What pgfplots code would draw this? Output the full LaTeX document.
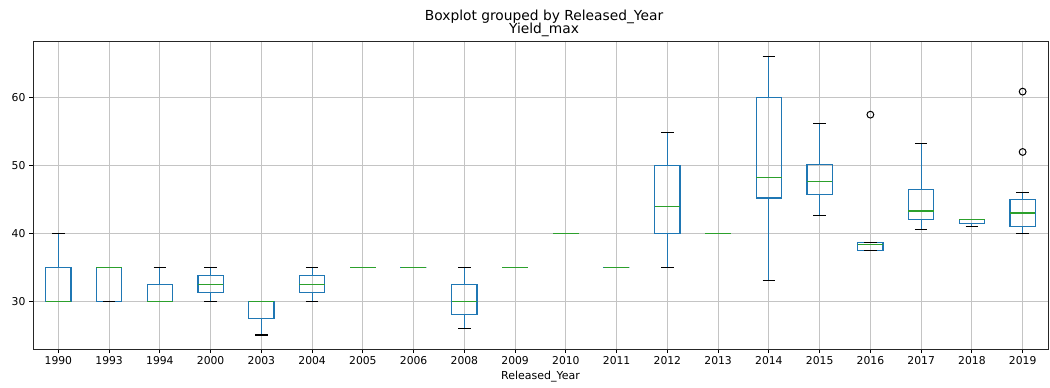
\documentclass[border=0pt]{standalone}
\usepackage{fontspec}
\setmainfont{DejaVu Sans}
\usepackage{pgfplots}
\pgfplotsset{compat=1.18}
\definecolor{mplblue}{HTML}{1F77B4}
\definecolor{mplgreen}{HTML}{2CA02C}
\definecolor{gridgray}{HTML}{C4C4C4}
\pgfplotsset{
  bl/.style={mplblue,line width=1.15pt,mark=none,solid,forget plot},
  bxs/.style={mplblue,line width=1.15pt,mark=none,solid,forget plot,line cap=rect},
  cap/.style={black,line width=1.15pt,mark=none,solid,forget plot},
  med/.style={mplgreen,line width=1.15pt,mark=none,solid,forget plot},
  outl/.style={only marks,mark=o,mark size=3.4pt,mark options={black,line width=1pt,solid},forget plot},
}
% position, lower whisker, lower quartile, median, upper quartile, upper whisker
\newcommand{\bx}[6]{%
  \pgfmathsetmacro\xa{#1-0.25}\pgfmathsetmacro\xb{#1+0.25}%
  \pgfmathsetmacro\ca{#1-0.125}\pgfmathsetmacro\cb{#1+0.125}%
  \edef\tmp{%
    \noexpand\addplot[bl] coordinates {(#1,#2) (#1,#3)};
    \noexpand\addplot[bl] coordinates {(#1,#5) (#1,#6)};
    \noexpand\addplot[bxs] coordinates {(\xa,#3) (\xb,#3) (\xb,#5) (\xa,#5) (\xa,#3)};
    \noexpand\addplot[cap] coordinates {(\ca,#2) (\cb,#2)};
    \noexpand\addplot[cap] coordinates {(\ca,#6) (\cb,#6)};
    \noexpand\addplot[med] coordinates {(\xa,#4) (\xb,#4)};
  }\tmp}
\begin{document}
\begin{tikzpicture}
\begin{axis}[
  name=ax,
  scale only axis,
  width=1015pt, height=307.3pt,
  xmin=0.5, xmax=20.5,
  ymin=22.94, ymax=68.26,
  xtick={1,...,20},
  xticklabels={1990,1993,1994,2000,2003,2004,2005,2006,2008,2009,2010,2011,2012,2013,2014,2015,2016,2017,2018,2019},
  ytick={30,40,50,60},
  grid=major,
  major grid style={gridgray,line width=1pt},
  tick align=outside,
  xtick pos=left, ytick pos=left,
  major tick length=4pt,
  tick style={black,line width=0.9pt},
  axis line style={black!85,line width=0.9pt},
  tick label style={font=\fontsize{10.8}{13}\selectfont},
  /pgf/number format/assume math mode=true,
  xlabel={Released\_Year},
  xlabel style={font=\fontsize{11}{13}\selectfont},
  clip=false,
]
\bx{1}{30}{30}{30}{35}{40}
\bx{2}{30}{30}{35}{35}{35}
\bx{3}{30}{30}{30}{32.5}{35}
\bx{4}{30}{31.25}{32.5}{33.75}{35}
\bx{5}{25}{27.5}{30}{30}{30}
\bx{6}{30}{31.25}{32.5}{33.75}{35}
\bx{7}{35}{35}{35}{35}{35}
\bx{8}{35}{35}{35}{35}{35}
\bx{9}{26}{28}{30}{32.5}{35}
\bx{10}{35}{35}{35}{35}{35}
\bx{11}{40}{40}{40}{40}{40}
\bx{12}{35}{35}{35}{35}{35}
\bx{13}{35}{40}{44}{50}{54.9}
\bx{14}{40}{40}{40}{40}{40}
\bx{15}{33}{45.2}{48.2}{60}{66.1}
\bx{16}{42.6}{45.7}{47.7}{50.15}{56.2}
\bx{17}{37.5}{37.5}{38.3}{38.6}{38.6}
\bx{18}{40.6}{42}{43.3}{46.5}{53.2}
\bx{19}{41}{41.5}{42}{42}{42}
\bx{20}{40}{41}{43}{45}{46}
\addplot[outl] coordinates {(17,57.5) (20,52) (20,60.9)};
\end{axis}
\node[anchor=base,font=\fontsize{13.8}{16}\selectfont] at ([xshift=3.5pt,yshift=21.7pt]ax.north) {Boxplot grouped by Released\_Year};
\node[anchor=base,font=\fontsize{13.8}{16}\selectfont] at ([xshift=3.5pt,yshift=7.7pt]ax.north) {Yield\_max};
\pgfresetboundingbox
\path ([xshift=-33pt,yshift=-38pt]ax.south west) rectangle ([xshift=2pt,yshift=41.7pt]ax.north east);
\end{tikzpicture}
\end{document}
